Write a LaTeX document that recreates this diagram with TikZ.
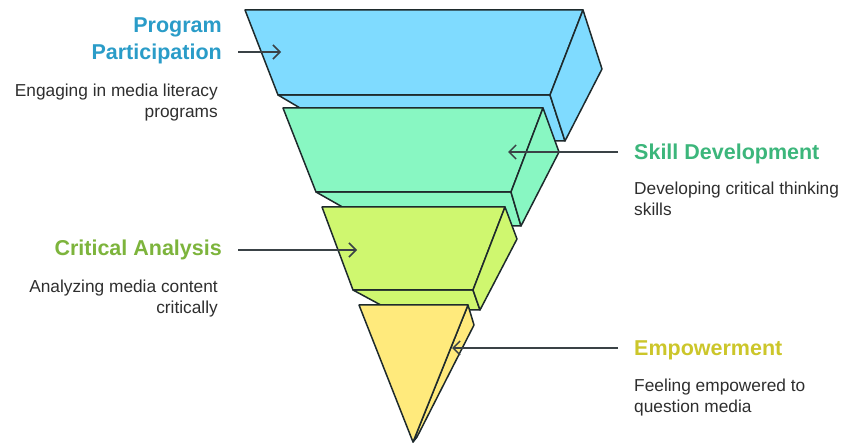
\documentclass[tikz,border=0pt]{standalone}
\usepackage{fontspec}
\setsansfont{Liberation Sans}
\usetikzlibrary{arrows.meta}
\definecolor{Ink}{HTML}{1E2A2C}
\definecolor{Wire}{HTML}{3A4246}
\definecolor{Body}{HTML}{2E2E2E}
\definecolor{TierBlue}{HTML}{7FDBFF}
\definecolor{TierMint}{HTML}{88F7C2}
\definecolor{TierLime}{HTML}{CFF76F}
\definecolor{TierSun}{HTML}{FFEA7C}
\definecolor{HeadBlue}{HTML}{2A9CC8}
\definecolor{HeadMint}{HTML}{3CB67B}
\definecolor{HeadLime}{HTML}{7DB43C}
\definecolor{HeadSun}{HTML}{CCC62A}

\begin{document}
\begin{tikzpicture}[x=1pt,y=-1pt,
  tier/.style={draw=Ink,line width=1.5pt,line join=round},
  head/.style={font=\sffamily\bfseries\fontsize{21.5}{27}\selectfont,inner sep=0pt},
  desc/.style={font=\sffamily\fontsize{17.3}{21}\selectfont,text=Body,inner sep=0pt},
  pointer/.style={draw=Wire,line width=1.5pt,-{Straight Barb[length=7pt,width=14pt]}}]
\useasboundingbox (0,0) rectangle (848,443);
% tier 1
\draw[tier,fill=TierBlue] (278,95) -- (550,95) -- (565,141) -- (356,141) -- cycle;
\draw[tier,fill=TierBlue] (245,10) -- (583,10) -- (550,95) -- (278,95) -- cycle;
\draw[tier,fill=TierBlue] (583,10) -- (602,69) -- (565,141) -- (550,95) -- cycle;
% tier 2
\draw[tier,fill=TierMint] (316,192) -- (511,192) -- (521,226) -- (376,226) -- cycle;
\draw[tier,fill=TierMint] (283,108) -- (543,108) -- (511,192) -- (316,192) -- cycle;
\draw[tier,fill=TierMint] (543,108) -- (559,152) -- (521,226) -- (511,192) -- cycle;
% tier 3
\draw[tier,fill=TierLime] (353,290) -- (473,290) -- (480,310) -- (390,310) -- cycle;
\draw[tier,fill=TierLime] (322,207) -- (505,207) -- (473,290) -- (353,290) -- cycle;
\draw[tier,fill=TierLime] (505,207) -- (517,239) -- (480,310) -- (473,290) -- cycle;
% tier 4
\draw[tier,fill=TierSun] (468,305) -- (474,325) -- (417,437) -- (413,442) -- cycle;
\draw[tier,fill=TierSun] (359,305) -- (468,305) -- (413,442) -- cycle;
% labels (multi-line nodes sit on their last baseline)
\node[head,text=HeadBlue,anchor=base east,align=right] (pp-head) at (222,60) {Program\\Participation};
\node[desc,anchor=base east,align=right] (pp-desc) at (218,118) {Engaging in media literacy\\programs};
\node[head,text=HeadMint,anchor=base west] (sd-head) at (634,160) {Skill Development};
\node[desc,anchor=base west,align=left] (sd-desc) at (634,216) {Developing critical thinking\\skills};
\node[head,text=HeadLime,anchor=base east] (ca-head) at (222,256) {Critical Analysis};
\node[desc,anchor=base east,align=right] (ca-desc) at (218,314) {Analyzing media content\\critically};
\node[head,text=HeadSun,anchor=base west] (em-head) at (634,355) {Empowerment};
\node[desc,anchor=base west,align=left] (em-desc) at (634,412) {Feeling empowered to\\question media};
% pointers
\coordinate (pp-from) at (238,52);  \coordinate (pp-to) at (281,52);
\coordinate (sd-from) at (618,152); \coordinate (sd-to) at (508,152);
\coordinate (ca-from) at (238,250); \coordinate (ca-to) at (357,250);
\coordinate (em-from) at (618,348); \coordinate (em-to) at (452,348);
\foreach \t in {pp,sd,ca,em} {\draw[pointer] (\t-from) -- (\t-to);}
\end{tikzpicture}
\end{document}
